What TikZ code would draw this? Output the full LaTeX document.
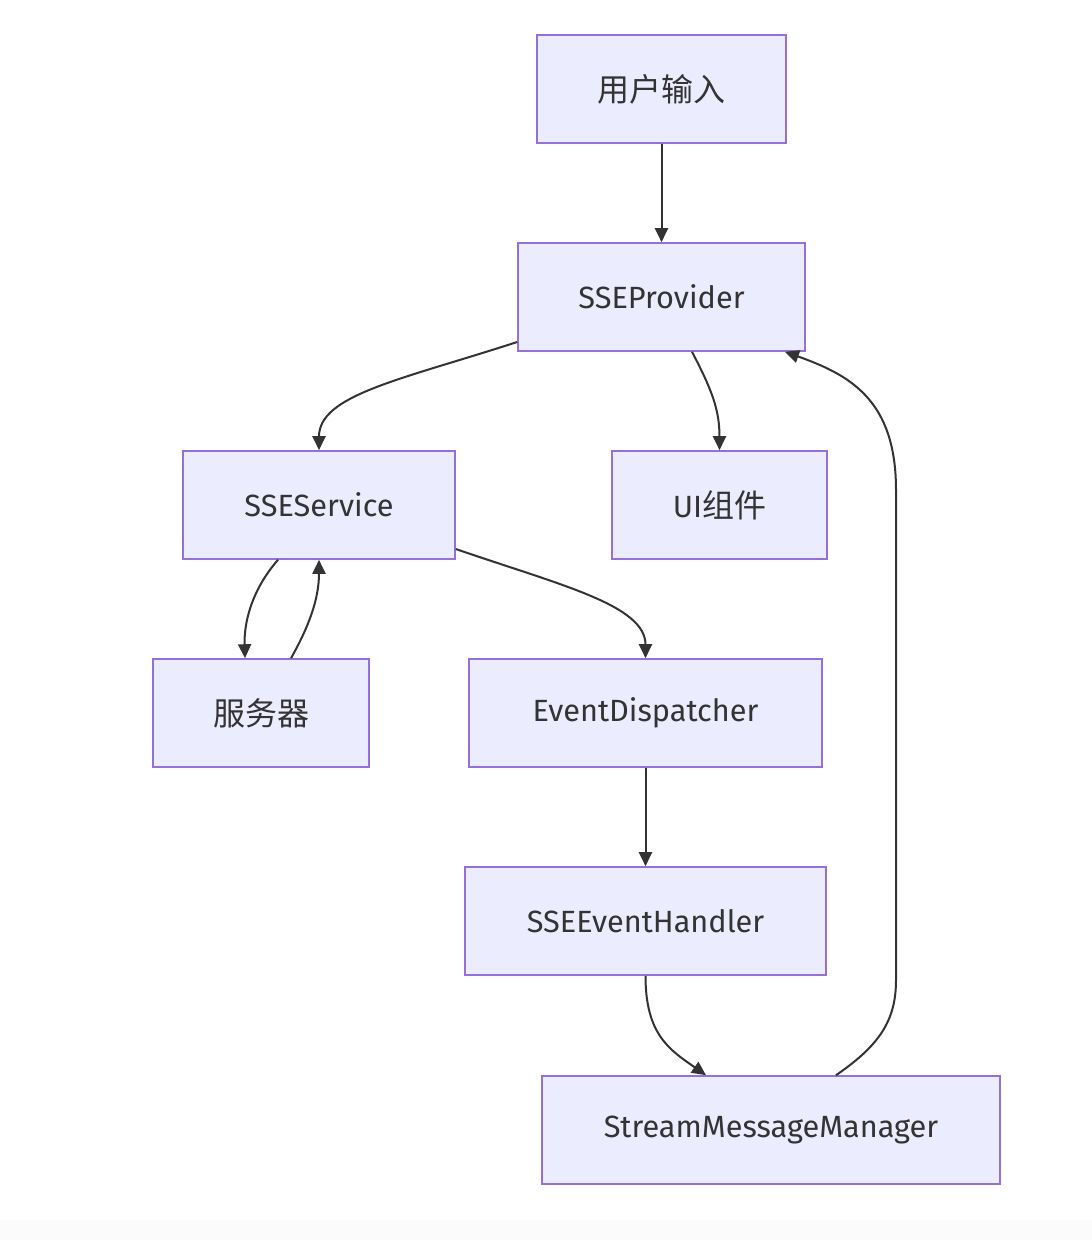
\documentclass[tikz,border=0pt]{standalone}
\usepackage{fontspec}
\setmainfont{Fira Sans}
\newfontfamily\cjk{Noto Sans CJK SC}
\usetikzlibrary{arrows.meta,calc}
\definecolor{boxfill}{HTML}{ECECFF}
\definecolor{boxdraw}{HTML}{9370DB}
\definecolor{edgecol}{HTML}{333333}
\begin{document}
\begin{tikzpicture}[x=1pt,y=-1pt,
  box/.style={draw=boxdraw,fill=boxfill,line width=1.6pt,inner sep=0pt,minimum height=108pt,text=edgecol,font=\fontsize{30.7}{36}\selectfont},
  cjkt/.style={font=\cjk\fontsize{32}{36}\selectfont},
  edge/.style={draw=edgecol,line width=2pt,-{Triangle[length=14pt,width=13pt]}}]
\useasboundingbox (0,0) rectangle (1092,1240);
\fill[black!1.5] (0,1220) rectangle (1092,1240);
\node[box,cjkt,minimum width=249pt] (in) at (661.5,89) {用户输入};
\node[box,minimum width=287pt] (sp) at (661.5,297) {SSEProvider};
\node[box,minimum width=272pt] (svc) at (319,505) {SSEService};
\node[box,minimum width=215pt] (ui) at (719.5,505) {UI{\cjk\fontsize{32}{36}\selectfont 组件}};
\node[box,cjkt,minimum width=216pt] (srv) at (261,713) {服务器};
\node[box,minimum width=353pt] (ed) at (645.5,713) {EventDispatcher};
\node[box,minimum width=361pt] (sh) at (645.5,921) {SSEEventHandler};
\node[box,minimum width=458pt] (sm) at (771,1130) {StreamMessageManager};

\draw[edge] (in.south) -- (sp.north);
\draw[edge] ([yshift=-45pt]sp.west) .. controls (400,380) and (319,395) .. (svc.north);
\draw[edge] ([xshift=30.5pt]sp.south) .. controls (712,390) and (719.5,410) .. (ui.north);
\draw[edge] ([xshift=-41pt]svc.south) .. controls (250,592) and (244,625) .. ([xshift=-16pt]srv.north);
\draw[edge] ([xshift=30pt]srv.north) .. controls (308,628) and (319,600) .. (svc.south);
\draw[edge] ([yshift=-44pt]svc.east) .. controls (560,585) and (645.5,605) .. (ed.north);
\draw[edge] (ed.south) -- (sh.north);
\draw[edge] (sh.south) .. controls (645.5,1035) and (670,1050) .. ([xshift=-65pt]sm.north);
\draw[edge] ([xshift=65pt]sm.north) .. controls (880,1045) and (896,1020) .. (896,980) -- (896,490) .. controls (896,400) and (850,375) .. ([xshift=123.5pt]sp.south);
\end{tikzpicture}
\end{document}
